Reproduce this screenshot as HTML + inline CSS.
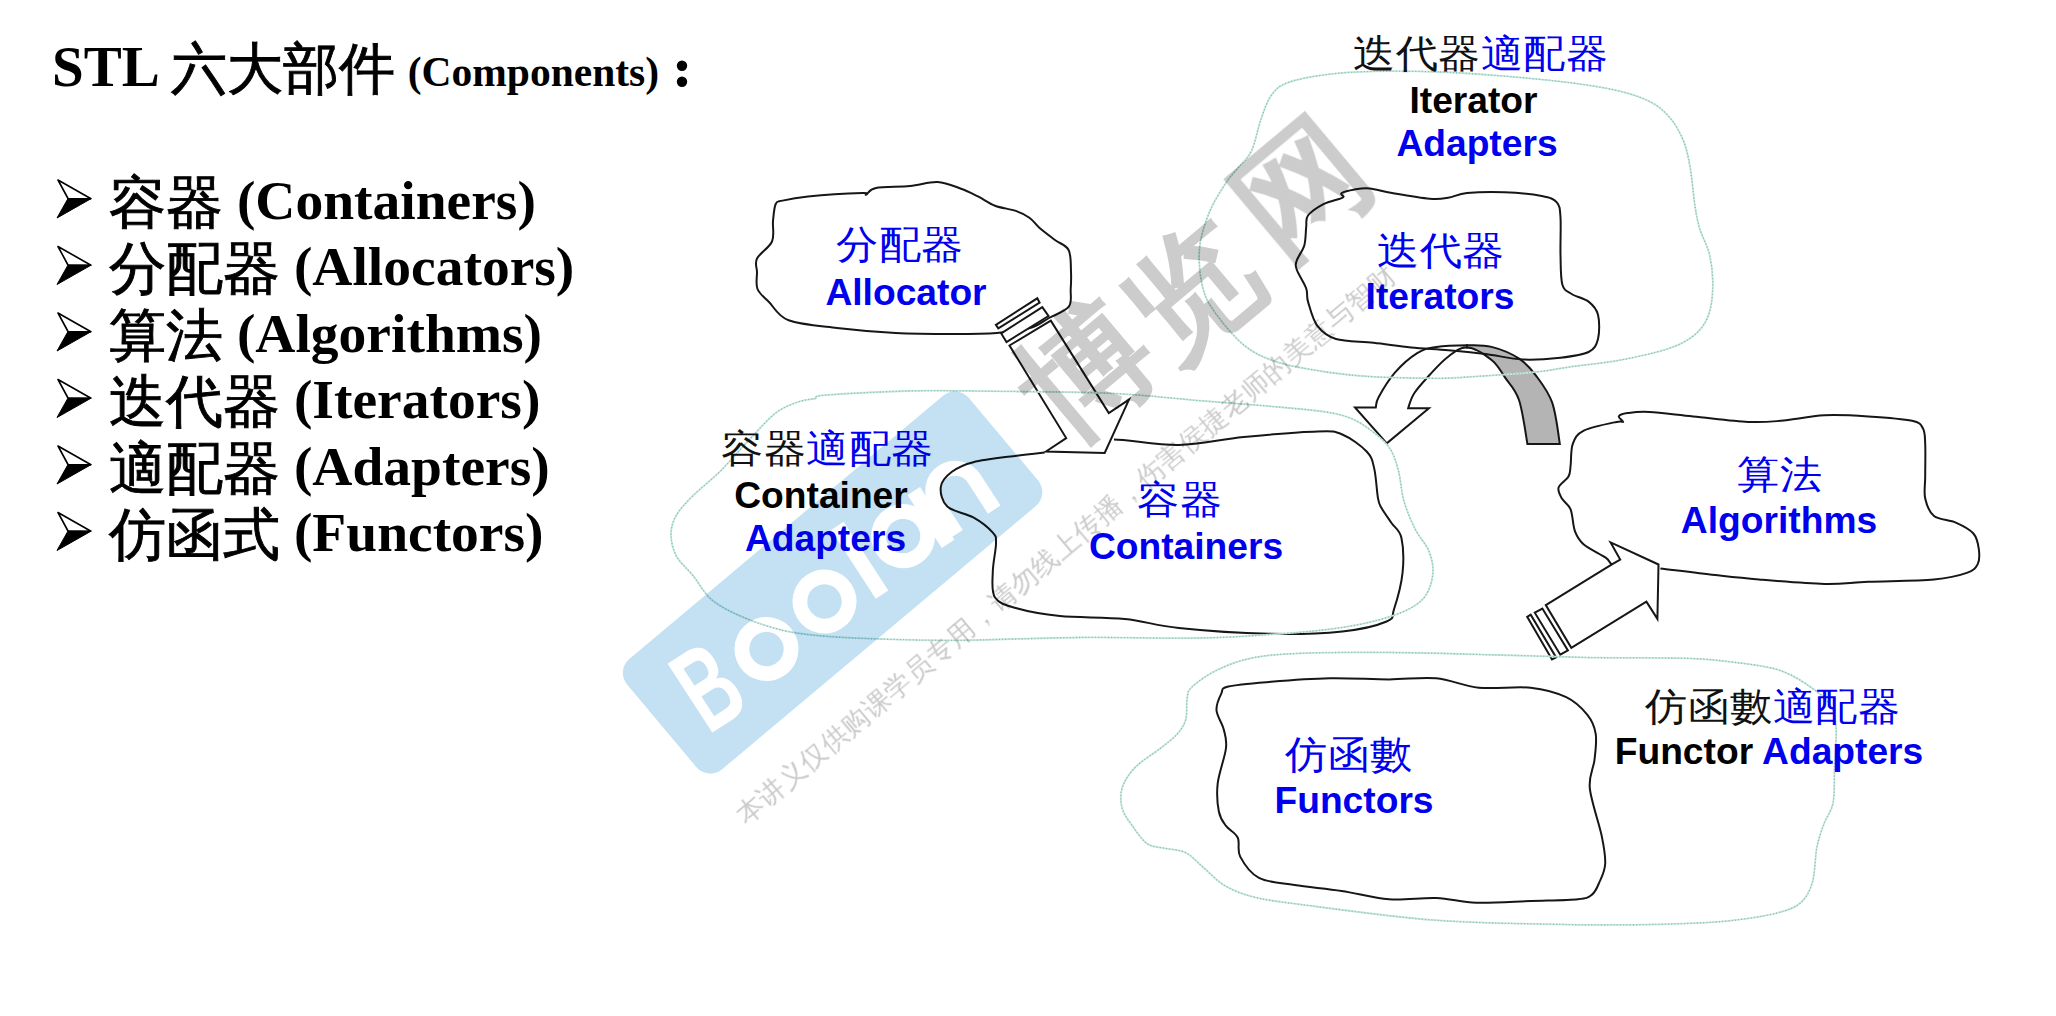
<!DOCTYPE html>
<html><head><meta charset="utf-8">
<style>
html,body{margin:0;padding:0;background:#fff;}
body{width:2056px;height:1016px;overflow:hidden;position:relative;}
svg{position:absolute;left:0;top:0;}
</style></head><body>
<svg width="2056" height="1016" viewBox="0 0 2056 1016">
<rect width="2056" height="1016" fill="#fff"/>
<g font-family="Liberation Serif, serif" fill="#000">
<text x="52" y="86" font-size="57"><tspan font-weight="bold">STL </tspan><tspan font-size="56" dy="2" stroke="#000" stroke-width="0.9">六大部件</tspan><tspan font-weight="bold" font-size="41.5" dy="-2" dx="2.5"> (Components)</tspan></text>
<circle cx="682" cy="65.8" r="5.2"/><circle cx="682" cy="81.8" r="5.2"/>
<text x="109" y="218.7" font-size="55.5"><tspan font-size="56.5" dy="3" stroke="#000" stroke-width="0.9">容器</tspan><tspan font-weight="bold" dy="-3"> (Containers)</tspan></text>
<path d="M58,180.0 L91,198.7 L68,198.5Z" fill="#fff" stroke="#000" stroke-width="1.6" stroke-linejoin="round"/>
<path d="M68,198.5 L91,198.7 L57,218.0Z" fill="#000" stroke="#000" stroke-width="1" stroke-linejoin="round"/>
<text x="109" y="285.2" font-size="55.5"><tspan font-size="56.5" dy="3" stroke="#000" stroke-width="0.9">分配器</tspan><tspan font-weight="bold" dy="-3"> (Allocators)</tspan></text>
<path d="M58,246.5 L91,265.2 L68,265.0Z" fill="#fff" stroke="#000" stroke-width="1.6" stroke-linejoin="round"/>
<path d="M68,265.0 L91,265.2 L57,284.5Z" fill="#000" stroke="#000" stroke-width="1" stroke-linejoin="round"/>
<text x="109" y="351.7" font-size="55.5"><tspan font-size="56.5" dy="3" stroke="#000" stroke-width="0.9">算法</tspan><tspan font-weight="bold" dy="-3"> (Algorithms)</tspan></text>
<path d="M58,313.0 L91,331.7 L68,331.5Z" fill="#fff" stroke="#000" stroke-width="1.6" stroke-linejoin="round"/>
<path d="M68,331.5 L91,331.7 L57,351.0Z" fill="#000" stroke="#000" stroke-width="1" stroke-linejoin="round"/>
<text x="109" y="418.2" font-size="55.5"><tspan font-size="56.5" dy="3" stroke="#000" stroke-width="0.9">迭代器</tspan><tspan font-weight="bold" dy="-3"> (Iterators)</tspan></text>
<path d="M58,379.5 L91,398.2 L68,398.0Z" fill="#fff" stroke="#000" stroke-width="1.6" stroke-linejoin="round"/>
<path d="M68,398.0 L91,398.2 L57,417.5Z" fill="#000" stroke="#000" stroke-width="1" stroke-linejoin="round"/>
<text x="109" y="484.7" font-size="55.5"><tspan font-size="56.5" dy="3" stroke="#000" stroke-width="0.9">適配器</tspan><tspan font-weight="bold" dy="-3"> (Adapters)</tspan></text>
<path d="M58,446.0 L91,464.7 L68,464.5Z" fill="#fff" stroke="#000" stroke-width="1.6" stroke-linejoin="round"/>
<path d="M68,464.5 L91,464.7 L57,484.0Z" fill="#000" stroke="#000" stroke-width="1" stroke-linejoin="round"/>
<text x="109" y="551.2" font-size="55.5"><tspan font-size="56.5" dy="3" stroke="#000" stroke-width="0.9">仿函式</tspan><tspan font-weight="bold" dy="-3"> (Functors)</tspan></text>
<path d="M58,512.5 L91,531.2 L68,531.0Z" fill="#fff" stroke="#000" stroke-width="1.6" stroke-linejoin="round"/>
<path d="M68,531.0 L91,531.2 L57,550.5Z" fill="#000" stroke="#000" stroke-width="1" stroke-linejoin="round"/>
</g>
<g stroke="#161616" stroke-width="2" stroke-linejoin="miter">
<path d="M1467.0,345.3 C1476.2,345.3 1482.9,344.7 1491.6,346.9 C1500.3,349.1 1511.8,353.9 1519.1,358.6 C1526.4,363.3 1530.1,367.8 1535.6,375.1 C1541.1,382.5 1548.2,391.2 1552.2,402.7 C1556.2,414.2 1558.3,434.4 1559.8,444.0 L1527.4,444 C1525.7,434.0 1522.7,411.0 1519.0,400.0 C1515.3,389.0 1509.9,384.6 1505.3,377.9 C1500.7,371.2 1498.0,365.1 1491.6,360.0 C1485.2,354.9 1475.6,347.5 1467.0,347.5Z" fill="#b4b4b4"/>
<path d="M1467.0,347.5 C1459.1,347.0 1453.7,352.6 1447.5,357.2 C1441.3,361.8 1435.1,369.0 1429.6,375.0 C1424.1,381.0 1418.0,387.5 1414.4,393.0 C1410.8,398.5 1409.6,403.7 1408.2,408.2 L1428.9,408.2 L1386.8,443.3 L1355,407.5 L1375.8,407.5 C1376.6,403.7 1375.4,403.1 1378.6,397.2 C1381.8,391.3 1388.7,379.8 1395.1,372.4 C1401.5,365.0 1410.3,357.4 1417.2,353.1 C1424.1,348.9 1428.1,348.2 1436.4,346.9 C1444.7,345.6 1457.8,345.3 1467.0,345.3Z" fill="#fff"/>
</g>
<g fill="none" stroke="#161616" stroke-width="2">
<path d="M775.7,204.0 C777.3,200.6 777.2,201.9 782.6,200.6 C788.0,199.3 794.7,197.7 808.0,196.4 C821.3,195.1 852.9,193.3 862.6,193.0 C872.3,192.7 863.8,195.5 866.0,194.7 C868.2,193.9 868.7,189.4 876.0,188.0 C883.3,186.6 899.8,187.0 910.0,186.0 C920.2,185.0 929.0,181.6 937.5,182.0 C946.0,182.4 954.2,186.3 961.0,188.7 C967.8,191.1 972.3,193.6 978.0,196.4 C983.7,199.2 988.7,203.3 995.0,205.7 C1001.3,208.1 1010.1,208.9 1015.8,210.9 C1021.5,212.9 1025.4,214.8 1029.4,217.7 C1033.4,220.5 1035.3,224.3 1039.6,228.0 C1043.9,231.7 1050.2,236.3 1055.0,240.0 C1059.8,243.7 1065.9,244.7 1068.6,250.0 C1071.3,255.3 1070.7,265.5 1071.0,272.0 C1071.3,278.5 1071.1,283.2 1070.7,289.0 C1070.3,294.8 1072.4,301.9 1068.8,306.7 C1065.2,311.5 1055.5,314.4 1049.0,318.0 C1042.5,321.6 1038.7,325.5 1030.0,328.0 C1021.3,330.5 1009.5,332.0 996.8,333.0 C984.1,334.0 970.9,334.0 954.0,334.0 C937.1,334.0 915.1,334.0 895.6,333.0 C876.1,332.0 854.8,330.1 837.0,328.0 C819.2,325.9 799.9,324.6 788.6,320.3 C777.3,316.0 774.2,307.2 769.0,302.0 C763.8,296.8 759.5,294.0 757.5,289.0 C755.5,284.0 757.1,277.1 757.0,272.0 C756.9,266.9 754.5,263.6 757.0,258.5 C759.5,253.4 769.3,247.8 772.0,241.5 C774.7,235.2 772.4,227.2 773.0,221.0 C773.6,214.8 774.1,207.4 775.7,204.0Z"/>
<path d="M1341.7,193.0 C1343.6,191.8 1350.1,190.2 1354.8,189.4 C1359.5,188.6 1363.6,187.8 1369.8,188.4 C1376.0,189.0 1382.0,191.3 1392.0,193.0 C1402.0,194.7 1420.3,197.9 1429.6,198.7 C1438.9,199.5 1441.8,198.8 1448.0,197.8 C1454.2,196.9 1457.6,193.9 1467.0,193.0 C1476.4,192.1 1491.9,191.7 1504.4,192.2 C1516.9,192.7 1533.1,194.3 1541.8,196.0 C1550.5,197.7 1553.7,198.8 1556.8,202.4 C1559.9,206.0 1559.9,208.7 1560.5,217.4 C1561.1,226.1 1560.2,243.6 1560.5,254.8 C1560.8,266.0 1560.5,278.2 1562.4,284.7 C1564.3,291.2 1567.3,291.2 1571.7,294.0 C1576.1,296.8 1584.2,298.2 1588.6,301.6 C1593.0,305.1 1596.4,308.5 1598.0,314.7 C1599.6,320.9 1599.6,332.8 1598.0,339.0 C1596.4,345.2 1594.8,348.9 1588.6,352.0 C1582.3,355.1 1571.4,356.4 1560.5,357.7 C1549.6,358.9 1535.5,360.1 1523.0,359.5 C1510.5,358.9 1498.2,355.6 1485.7,354.0 C1473.2,352.4 1460.8,351.3 1448.3,350.2 C1435.8,349.1 1423.5,348.6 1411.0,347.4 C1398.5,346.1 1386.0,344.1 1373.5,342.7 C1361.0,341.3 1345.3,341.8 1336.0,339.0 C1326.7,336.2 1322.1,332.1 1317.4,325.9 C1312.7,319.7 1309.9,307.8 1308.0,301.6 C1306.1,295.4 1308.1,293.8 1306.2,288.5 C1304.3,283.2 1298.4,274.5 1296.8,269.8 C1295.2,265.1 1295.5,264.4 1296.8,260.4 C1298.0,256.3 1302.7,251.1 1304.3,245.5 C1305.9,239.9 1305.6,231.8 1306.2,226.8 C1306.8,221.8 1305.2,219.2 1308.0,215.5 C1310.8,211.8 1317.7,207.1 1323.0,204.3 C1328.3,201.5 1336.4,199.9 1339.8,198.7 C1343.2,197.4 1343.3,197.8 1343.6,196.8 C1343.9,195.9 1339.8,194.2 1341.7,193.0Z"/>
<path d="M1228.3,686.5 C1236.6,684.5 1254.0,683.2 1270.9,681.8 C1287.8,680.4 1310.2,678.7 1329.9,678.3 C1349.6,677.9 1371.3,679.4 1389.0,679.4 C1406.7,679.4 1421.2,676.9 1436.2,678.3 C1451.2,679.7 1463.0,686.1 1478.8,687.7 C1494.5,689.3 1516.1,686.1 1530.7,687.7 C1545.3,689.3 1556.8,692.7 1566.2,697.2 C1575.7,701.7 1582.5,708.8 1587.4,714.9 C1592.3,721.0 1594.5,726.3 1595.7,733.8 C1596.9,741.3 1595.5,750.8 1594.5,759.8 C1593.5,768.8 1588.6,775.5 1589.8,788.1 C1591.0,800.7 1599.0,822.8 1601.6,835.4 C1604.2,848.0 1605.6,855.8 1605.2,863.7 C1604.8,871.6 1601.4,877.5 1599.2,882.6 C1597.0,887.7 1595.7,891.6 1592.2,894.4 C1588.7,897.2 1588.2,898.1 1578.0,899.2 C1567.8,900.3 1547.6,900.4 1530.7,901.0 C1513.8,901.6 1492.2,903.2 1476.4,902.7 C1460.7,902.2 1450.8,898.6 1436.2,898.0 C1421.6,897.4 1404.8,900.4 1389.0,899.2 C1373.2,898.0 1357.5,893.3 1341.7,890.9 C1326.0,888.5 1308.3,887.2 1294.5,885.0 C1280.7,882.8 1268.0,882.6 1259.0,877.9 C1250.0,873.2 1243.7,863.3 1240.2,856.6 C1236.7,849.9 1240.2,842.8 1237.8,837.7 C1235.4,832.6 1229.2,830.2 1226.0,825.9 C1222.8,821.6 1220.3,818.8 1218.9,811.7 C1217.5,804.6 1216.5,794.0 1217.7,783.4 C1218.9,772.8 1225.0,757.1 1226.0,748.0 C1227.0,738.9 1225.2,735.3 1223.6,729.0 C1222.0,722.7 1216.9,716.1 1216.5,710.2 C1216.1,704.3 1219.3,697.6 1221.3,693.6 C1223.3,689.6 1220.0,688.5 1228.3,686.5Z"/>
<path d="M1044.7,452.5 C1035.8,453.6 1028.5,454.1 1016.6,455.7 C1004.7,457.3 984.1,459.5 973.3,462.2 C962.5,464.9 957.0,467.9 951.6,472.0 C946.2,476.1 941.5,481.2 940.8,487.0 C940.1,492.8 941.9,501.5 947.3,506.6 C952.7,511.7 965.7,513.1 973.3,517.4 C980.9,521.7 989.0,528.3 992.8,532.6 C996.6,536.9 996.0,536.9 996.0,543.4 C996.0,549.9 993.0,562.5 992.8,571.5 C992.6,580.5 991.0,591.4 995.0,597.5 C999.0,603.6 1005.8,605.2 1016.6,608.3 C1027.4,611.4 1041.9,614.2 1059.9,616.0 C1077.9,617.8 1105.0,617.0 1124.8,619.0 C1144.6,621.0 1155.0,625.5 1178.9,628.0 C1202.8,630.5 1241.2,633.2 1268.4,633.8 C1295.6,634.4 1322.6,633.4 1342.3,631.4 C1362.0,629.4 1378.0,625.2 1386.6,621.5 C1395.2,617.8 1391.3,617.4 1394.0,609.2 C1396.7,601.0 1401.4,584.2 1402.6,572.3 C1403.8,560.4 1403.2,546.0 1401.4,537.8 C1399.6,529.6 1394.8,527.9 1391.5,523.0 C1388.2,518.1 1384.0,512.4 1381.7,508.3 C1379.5,504.2 1379.2,505.0 1378.0,498.4 C1376.8,491.8 1376.1,476.7 1374.3,468.9 C1372.5,461.1 1372.2,457.4 1366.9,451.7 C1361.6,446.0 1350.5,437.9 1342.3,434.5 C1334.1,431.1 1334.1,431.1 1317.7,431.5 C1301.3,431.9 1266.9,434.8 1243.8,437.0 C1220.7,439.2 1200.6,444.6 1179.0,445.0 C1157.4,445.4 1128.0,439.5 1114.0,439.5"/>
<path d="M1611.9,564.3 C1608.7,562.9 1610.4,560.9 1605.7,557.6 C1601.0,554.3 1588.9,548.8 1583.8,544.4 C1578.7,540.0 1577.2,537.1 1575.0,531.3 C1572.8,525.5 1572.8,514.9 1570.6,509.4 C1568.4,503.9 1563.9,502.1 1561.9,498.5 C1559.9,494.9 1557.5,491.1 1558.6,487.5 C1559.7,483.9 1566.5,480.2 1568.5,476.6 C1570.5,473.0 1569.9,471.2 1570.6,465.7 C1571.3,460.2 1570.6,449.6 1572.8,443.8 C1575.0,438.0 1576.5,434.2 1583.8,430.6 C1591.1,427.0 1610.0,423.3 1616.6,421.9 C1623.2,420.4 1622.8,422.8 1623.2,421.9 C1623.6,421.0 1618.1,417.9 1618.8,416.4 C1619.5,414.9 1622.4,413.8 1627.5,413.1 C1632.6,412.4 1638.5,411.4 1649.4,412.0 C1660.4,412.6 1676.8,414.8 1693.2,416.4 C1709.6,418.0 1733.4,421.2 1748.0,421.9 C1762.6,422.6 1768.0,421.9 1780.8,420.8 C1793.5,419.7 1809.9,416.0 1824.5,415.3 C1839.1,414.6 1853.7,415.5 1868.3,416.4 C1882.9,417.3 1903.0,418.8 1912.1,420.8 C1921.2,422.8 1920.8,424.7 1923.0,428.5 C1925.2,432.3 1924.8,435.8 1925.2,443.8 C1925.6,451.8 1925.2,467.5 1925.2,476.6 C1925.2,485.7 1923.7,491.9 1925.2,498.5 C1926.7,505.1 1928.9,512.0 1934.0,516.0 C1939.1,520.0 1949.2,519.7 1955.8,522.6 C1962.4,525.5 1969.6,529.1 1973.4,533.5 C1977.2,537.9 1978.1,543.7 1978.8,548.8 C1979.5,553.9 1979.7,560.1 1977.7,564.1 C1975.7,568.1 1974.1,570.3 1966.8,572.9 C1959.5,575.5 1950.4,578.0 1934.0,579.5 C1917.6,581.0 1886.5,581.0 1868.3,581.7 C1850.0,582.4 1842.7,584.3 1824.5,583.9 C1806.3,583.5 1777.1,581.0 1758.9,579.5 C1740.7,578.0 1731.5,576.9 1715.1,575.1 C1698.7,573.3 1672.9,570.0 1660.4,568.5"/>
</g>
<g fill="#fff" stroke="#161616" stroke-width="2" stroke-linejoin="miter">
<path d="M1009.5,345.5 L1050.8,320.7 L1108.8,413.0 L1129.0,399.6 L1104.7,453.0 L1046.0,451.5 L1066.2,438.1Z"/>
<path d="M995.9,324.8 L1037.3,298.3 L1039.6,302.7 L998.3,328.4Z"/>
<path d="M1001.2,333.4 L1042.3,307.1 L1048.5,316.0 L1006.5,342.0Z"/>
<path d="M1545.8,605.1 L1611.9,564.4 L1620.2,559.6 L1610.6,542.4 L1658.5,564.5 L1657.4,618.9 L1646.4,601.6 L1571.3,647.8Z"/>
<path d="M1527.2,616.8 L1530.7,614.7 L1556.1,657.4 L1552.0,659.5Z"/>
<path d="M1534.8,612.7 L1542.4,608.5 L1567.9,650.5 L1560.3,654.7Z"/>
</g>
<g fill="none" stroke="#c6e9e2" stroke-width="1.8">
<path d="M1440.0,72.0 C1461.7,72.8 1483.3,74.4 1505.0,76.2 C1526.7,78.0 1551.0,80.2 1569.9,82.7 C1588.8,85.2 1605.1,87.7 1618.6,90.9 C1632.1,94.2 1642.4,97.6 1651.1,102.2 C1659.8,106.8 1665.2,112.0 1670.6,118.5 C1676.0,125.0 1680.3,133.1 1683.6,141.2 C1686.8,149.3 1688.2,156.4 1690.1,167.2 C1692.0,178.0 1693.4,195.8 1695.0,206.1 C1696.6,216.4 1697.4,220.8 1699.8,228.9 C1702.2,237.0 1707.4,245.2 1709.6,254.9 C1711.8,264.6 1713.1,277.0 1712.8,287.3 C1712.5,297.6 1711.2,308.5 1708.0,316.6 C1704.8,324.7 1700.1,330.6 1693.3,336.0 C1686.5,341.4 1679.8,344.9 1667.3,349.0 C1654.8,353.1 1634.8,357.4 1618.6,360.4 C1602.4,363.4 1583.4,365.0 1569.9,366.9 C1556.4,368.8 1553.6,370.2 1537.4,371.8 C1521.2,373.4 1488.7,375.6 1472.5,376.7 C1456.3,377.8 1456.2,378.3 1440.0,378.3 C1423.8,378.3 1394.0,377.9 1375.0,376.9 C1356.0,375.8 1342.5,374.4 1326.2,372.0 C1310.0,369.6 1291.0,366.5 1277.5,362.2 C1264.0,357.9 1255.3,354.1 1245.0,346.0 C1234.7,337.9 1222.8,323.2 1215.7,313.5 C1208.7,303.8 1205.4,298.3 1202.7,287.5 C1200.0,276.7 1198.4,261.0 1199.5,248.5 C1200.6,236.0 1204.9,223.5 1209.2,212.7 C1213.5,201.9 1220.6,191.1 1225.5,183.5 C1230.4,175.9 1234.2,172.6 1238.5,167.2 C1242.8,161.8 1247.7,159.1 1251.5,151.0 C1255.3,142.9 1258.0,127.7 1261.2,118.5 C1264.5,109.3 1266.7,101.7 1271.0,95.7 C1275.3,89.8 1278.0,86.3 1287.2,82.8 C1296.4,79.3 1311.6,76.5 1326.2,74.6 C1340.8,72.7 1356.0,71.8 1375.0,71.4 C1394.0,71.0 1418.3,71.2 1440.0,72.0Z"/>
<path d="M825.3,395.2 C840.8,393.9 881.1,391.7 908.0,391.0 C934.9,390.3 952.9,390.8 986.8,391.2 C1020.7,391.6 1075.8,391.7 1111.3,393.3 C1146.8,394.9 1173.7,398.6 1200.0,400.7 C1226.3,402.8 1248.2,404.4 1268.9,406.2 C1289.6,408.0 1310.2,409.6 1324.0,411.7 C1337.8,413.8 1343.3,415.2 1351.6,418.6 C1359.9,422.1 1367.2,427.3 1373.6,432.4 C1380.0,437.4 1386.0,442.5 1390.2,448.9 C1394.4,455.3 1396.2,462.3 1398.5,471.0 C1400.8,479.7 1401.2,491.7 1404.0,501.3 C1406.8,510.9 1410.9,520.5 1415.0,528.8 C1419.1,537.1 1425.8,543.5 1428.8,550.9 C1431.8,558.2 1433.4,565.5 1432.9,572.9 C1432.4,580.2 1429.9,589.0 1426.0,595.0 C1422.1,601.0 1417.3,604.7 1409.5,608.8 C1401.7,612.9 1391.2,616.6 1379.2,619.8 C1367.2,623.0 1353.9,625.8 1337.8,628.1 C1321.7,630.4 1305.7,632.0 1282.7,633.6 C1259.7,635.2 1234.1,637.4 1200.0,638.0 C1165.9,638.6 1118.0,637.1 1078.0,637.5 C1038.0,637.9 992.9,640.0 960.0,640.3 C927.1,640.5 902.9,639.7 880.4,639.0 C857.9,638.3 841.4,637.6 825.3,636.2 C809.2,634.8 797.8,633.9 784.0,630.7 C770.2,627.5 754.6,622.1 742.6,617.0 C730.6,611.9 720.3,606.9 712.0,600.0 C703.7,593.1 698.9,582.9 693.0,575.6 C687.1,568.3 680.2,563.2 676.5,556.3 C672.8,549.4 671.0,541.2 671.0,534.3 C671.0,527.4 672.8,521.4 676.5,515.0 C680.2,508.6 685.6,503.1 693.0,495.7 C700.4,488.3 711.0,480.5 720.6,470.9 C730.2,461.3 741.7,447.5 750.9,437.9 C760.1,428.2 767.9,419.0 775.7,413.0 C783.5,407.0 791.2,404.4 797.7,402.0 C804.2,399.6 810.4,399.6 815.0,398.5 C819.6,397.4 809.8,396.4 825.3,395.2Z"/>
<path d="M1300.0,653.3 C1323.2,652.4 1359.5,652.2 1392.8,652.5 C1426.1,652.8 1465.5,654.1 1500.0,655.0 C1534.5,655.9 1568.6,657.2 1600.0,657.7 C1631.4,658.2 1666.4,657.6 1688.5,658.3 C1710.6,659.0 1718.0,660.2 1732.8,662.1 C1747.6,664.0 1764.8,665.8 1777.1,669.5 C1789.4,673.2 1797.8,678.4 1806.6,684.3 C1815.4,690.2 1825.3,697.6 1830.2,705.0 C1835.1,712.4 1835.4,718.7 1836.1,728.5 C1836.8,738.3 1835.1,751.7 1834.6,764.0 C1834.1,776.3 1834.9,792.5 1833.2,802.3 C1831.5,812.1 1827.0,815.6 1824.3,823.0 C1821.6,830.4 1819.0,836.8 1817.0,846.6 C1815.0,856.4 1815.2,872.6 1812.5,882.0 C1809.8,891.4 1806.6,897.5 1800.7,902.7 C1794.8,907.9 1788.4,910.0 1777.1,913.0 C1765.8,916.0 1747.6,918.7 1732.8,920.4 C1718.0,922.1 1705.7,922.7 1688.5,923.4 C1671.3,924.1 1650.9,924.6 1629.5,924.8 C1608.1,925.0 1592.5,925.2 1560.0,924.4 C1527.5,923.6 1477.9,923.5 1434.6,920.2 C1391.3,916.9 1330.2,908.3 1300.0,904.4 C1269.8,900.5 1266.2,900.2 1253.6,897.0 C1240.9,893.8 1232.5,890.1 1224.1,885.2 C1215.7,880.3 1209.8,872.9 1203.4,867.5 C1197.0,862.1 1192.1,855.9 1185.7,852.7 C1179.3,849.5 1171.4,849.8 1165.0,848.3 C1158.6,846.8 1152.7,847.5 1147.3,843.8 C1141.9,840.1 1136.7,832.0 1132.5,826.1 C1128.3,820.2 1123.9,814.8 1122.2,808.4 C1120.5,802.0 1120.0,794.6 1122.2,787.7 C1124.4,780.8 1129.3,773.4 1135.5,767.0 C1141.7,760.6 1152.2,754.7 1159.1,749.3 C1166.0,743.9 1172.4,739.4 1176.8,734.5 C1181.2,729.6 1184.0,725.7 1185.7,719.8 C1187.4,713.9 1186.1,704.4 1187.1,699.0 C1188.1,693.6 1186.4,692.2 1191.6,687.3 C1196.8,682.4 1207.9,674.4 1218.2,669.5 C1228.5,664.6 1240.0,660.4 1253.6,657.7 C1267.2,655.0 1276.8,654.2 1300.0,653.3Z"/>
</g>
<g fill="none" stroke="#93bdb3" stroke-width="1.3" stroke-dasharray="1.2 2">
<path d="M1440.0,72.0 C1461.7,72.8 1483.3,74.4 1505.0,76.2 C1526.7,78.0 1551.0,80.2 1569.9,82.7 C1588.8,85.2 1605.1,87.7 1618.6,90.9 C1632.1,94.2 1642.4,97.6 1651.1,102.2 C1659.8,106.8 1665.2,112.0 1670.6,118.5 C1676.0,125.0 1680.3,133.1 1683.6,141.2 C1686.8,149.3 1688.2,156.4 1690.1,167.2 C1692.0,178.0 1693.4,195.8 1695.0,206.1 C1696.6,216.4 1697.4,220.8 1699.8,228.9 C1702.2,237.0 1707.4,245.2 1709.6,254.9 C1711.8,264.6 1713.1,277.0 1712.8,287.3 C1712.5,297.6 1711.2,308.5 1708.0,316.6 C1704.8,324.7 1700.1,330.6 1693.3,336.0 C1686.5,341.4 1679.8,344.9 1667.3,349.0 C1654.8,353.1 1634.8,357.4 1618.6,360.4 C1602.4,363.4 1583.4,365.0 1569.9,366.9 C1556.4,368.8 1553.6,370.2 1537.4,371.8 C1521.2,373.4 1488.7,375.6 1472.5,376.7 C1456.3,377.8 1456.2,378.3 1440.0,378.3 C1423.8,378.3 1394.0,377.9 1375.0,376.9 C1356.0,375.8 1342.5,374.4 1326.2,372.0 C1310.0,369.6 1291.0,366.5 1277.5,362.2 C1264.0,357.9 1255.3,354.1 1245.0,346.0 C1234.7,337.9 1222.8,323.2 1215.7,313.5 C1208.7,303.8 1205.4,298.3 1202.7,287.5 C1200.0,276.7 1198.4,261.0 1199.5,248.5 C1200.6,236.0 1204.9,223.5 1209.2,212.7 C1213.5,201.9 1220.6,191.1 1225.5,183.5 C1230.4,175.9 1234.2,172.6 1238.5,167.2 C1242.8,161.8 1247.7,159.1 1251.5,151.0 C1255.3,142.9 1258.0,127.7 1261.2,118.5 C1264.5,109.3 1266.7,101.7 1271.0,95.7 C1275.3,89.8 1278.0,86.3 1287.2,82.8 C1296.4,79.3 1311.6,76.5 1326.2,74.6 C1340.8,72.7 1356.0,71.8 1375.0,71.4 C1394.0,71.0 1418.3,71.2 1440.0,72.0Z"/>
<path d="M825.3,395.2 C840.8,393.9 881.1,391.7 908.0,391.0 C934.9,390.3 952.9,390.8 986.8,391.2 C1020.7,391.6 1075.8,391.7 1111.3,393.3 C1146.8,394.9 1173.7,398.6 1200.0,400.7 C1226.3,402.8 1248.2,404.4 1268.9,406.2 C1289.6,408.0 1310.2,409.6 1324.0,411.7 C1337.8,413.8 1343.3,415.2 1351.6,418.6 C1359.9,422.1 1367.2,427.3 1373.6,432.4 C1380.0,437.4 1386.0,442.5 1390.2,448.9 C1394.4,455.3 1396.2,462.3 1398.5,471.0 C1400.8,479.7 1401.2,491.7 1404.0,501.3 C1406.8,510.9 1410.9,520.5 1415.0,528.8 C1419.1,537.1 1425.8,543.5 1428.8,550.9 C1431.8,558.2 1433.4,565.5 1432.9,572.9 C1432.4,580.2 1429.9,589.0 1426.0,595.0 C1422.1,601.0 1417.3,604.7 1409.5,608.8 C1401.7,612.9 1391.2,616.6 1379.2,619.8 C1367.2,623.0 1353.9,625.8 1337.8,628.1 C1321.7,630.4 1305.7,632.0 1282.7,633.6 C1259.7,635.2 1234.1,637.4 1200.0,638.0 C1165.9,638.6 1118.0,637.1 1078.0,637.5 C1038.0,637.9 992.9,640.0 960.0,640.3 C927.1,640.5 902.9,639.7 880.4,639.0 C857.9,638.3 841.4,637.6 825.3,636.2 C809.2,634.8 797.8,633.9 784.0,630.7 C770.2,627.5 754.6,622.1 742.6,617.0 C730.6,611.9 720.3,606.9 712.0,600.0 C703.7,593.1 698.9,582.9 693.0,575.6 C687.1,568.3 680.2,563.2 676.5,556.3 C672.8,549.4 671.0,541.2 671.0,534.3 C671.0,527.4 672.8,521.4 676.5,515.0 C680.2,508.6 685.6,503.1 693.0,495.7 C700.4,488.3 711.0,480.5 720.6,470.9 C730.2,461.3 741.7,447.5 750.9,437.9 C760.1,428.2 767.9,419.0 775.7,413.0 C783.5,407.0 791.2,404.4 797.7,402.0 C804.2,399.6 810.4,399.6 815.0,398.5 C819.6,397.4 809.8,396.4 825.3,395.2Z"/>
<path d="M1300.0,653.3 C1323.2,652.4 1359.5,652.2 1392.8,652.5 C1426.1,652.8 1465.5,654.1 1500.0,655.0 C1534.5,655.9 1568.6,657.2 1600.0,657.7 C1631.4,658.2 1666.4,657.6 1688.5,658.3 C1710.6,659.0 1718.0,660.2 1732.8,662.1 C1747.6,664.0 1764.8,665.8 1777.1,669.5 C1789.4,673.2 1797.8,678.4 1806.6,684.3 C1815.4,690.2 1825.3,697.6 1830.2,705.0 C1835.1,712.4 1835.4,718.7 1836.1,728.5 C1836.8,738.3 1835.1,751.7 1834.6,764.0 C1834.1,776.3 1834.9,792.5 1833.2,802.3 C1831.5,812.1 1827.0,815.6 1824.3,823.0 C1821.6,830.4 1819.0,836.8 1817.0,846.6 C1815.0,856.4 1815.2,872.6 1812.5,882.0 C1809.8,891.4 1806.6,897.5 1800.7,902.7 C1794.8,907.9 1788.4,910.0 1777.1,913.0 C1765.8,916.0 1747.6,918.7 1732.8,920.4 C1718.0,922.1 1705.7,922.7 1688.5,923.4 C1671.3,924.1 1650.9,924.6 1629.5,924.8 C1608.1,925.0 1592.5,925.2 1560.0,924.4 C1527.5,923.6 1477.9,923.5 1434.6,920.2 C1391.3,916.9 1330.2,908.3 1300.0,904.4 C1269.8,900.5 1266.2,900.2 1253.6,897.0 C1240.9,893.8 1232.5,890.1 1224.1,885.2 C1215.7,880.3 1209.8,872.9 1203.4,867.5 C1197.0,862.1 1192.1,855.9 1185.7,852.7 C1179.3,849.5 1171.4,849.8 1165.0,848.3 C1158.6,846.8 1152.7,847.5 1147.3,843.8 C1141.9,840.1 1136.7,832.0 1132.5,826.1 C1128.3,820.2 1123.9,814.8 1122.2,808.4 C1120.5,802.0 1120.0,794.6 1122.2,787.7 C1124.4,780.8 1129.3,773.4 1135.5,767.0 C1141.7,760.6 1152.2,754.7 1159.1,749.3 C1166.0,743.9 1172.4,739.4 1176.8,734.5 C1181.2,729.6 1184.0,725.7 1185.7,719.8 C1187.4,713.9 1186.1,704.4 1187.1,699.0 C1188.1,693.6 1186.4,692.2 1191.6,687.3 C1196.8,682.4 1207.9,674.4 1218.2,669.5 C1228.5,664.6 1240.0,660.4 1253.6,657.7 C1267.2,655.0 1276.8,654.2 1300.0,653.3Z"/>
</g>
<text x="1353" y="67" transform="translate(1353,72) scale(1.015,0.94) translate(-1353,-72)" font-size="41.5" font-family="Liberation Sans, sans-serif" stroke-width="0"><tspan fill="#111" stroke="#111">迭代器</tspan><tspan fill="#0000ee" stroke="#0000ee">適配器</tspan></text>
<text x="1473.5" y="113" font-size="37.2" fill="#000" text-anchor="middle" font-weight="bold" font-family="Liberation Sans, sans-serif">Iterator</text>
<text x="1477" y="156" font-size="37.2" fill="#0000ee" text-anchor="middle" font-weight="bold" font-family="Liberation Sans, sans-serif">Adapters</text>
<text x="836" y="258" transform="translate(836,263) scale(1.015,0.94) translate(-836,-263)" font-size="41.5" fill="#0000ee" font-family="Liberation Sans, sans-serif">分配器</text>
<text x="906" y="304.5" font-size="37.2" fill="#0000ee" text-anchor="middle" font-weight="bold" font-family="Liberation Sans, sans-serif">Allocator</text>
<text x="1377" y="264" transform="translate(1377,269) scale(1.015,0.94) translate(-1377,-269)" font-size="41.5" fill="#0000ee" font-family="Liberation Sans, sans-serif">迭代器</text>
<text x="1440" y="309" font-size="37.2" fill="#0000ee" text-anchor="middle" font-weight="bold" font-family="Liberation Sans, sans-serif">Iterators</text>
<text x="721" y="462" transform="translate(721,467) scale(1.015,0.94) translate(-721,-467)" font-size="41.5" font-family="Liberation Sans, sans-serif" stroke-width="0"><tspan fill="#111" stroke="#111">容器</tspan><tspan fill="#0000ee" stroke="#0000ee">適配器</tspan></text>
<text x="821" y="507.5" font-size="37.2" fill="#000" text-anchor="middle" font-weight="bold" font-family="Liberation Sans, sans-serif">Container</text>
<text x="825.5" y="551" font-size="37.2" fill="#0000ee" text-anchor="middle" font-weight="bold" font-family="Liberation Sans, sans-serif">Adapters</text>
<text x="1137" y="513" transform="translate(1137,518) scale(1.015,0.94) translate(-1137,-518)" font-size="41.5" fill="#0000ee" font-family="Liberation Sans, sans-serif">容器</text>
<text x="1186" y="559" font-size="37.2" fill="#0000ee" text-anchor="middle" font-weight="bold" font-family="Liberation Sans, sans-serif">Containers</text>
<text x="1737" y="488" transform="translate(1737,493) scale(1.015,0.94) translate(-1737,-493)" font-size="41.5" fill="#0000ee" font-family="Liberation Sans, sans-serif">算法</text>
<text x="1779" y="532.5" font-size="37.2" fill="#0000ee" text-anchor="middle" font-weight="bold" font-family="Liberation Sans, sans-serif">Algorithms</text>
<text x="1285" y="768" transform="translate(1285,773) scale(1.015,0.94) translate(-1285,-773)" font-size="41.5" fill="#0000ee" font-family="Liberation Sans, sans-serif">仿函數</text>
<text x="1354" y="813" font-size="37.2" fill="#0000ee" text-anchor="middle" font-weight="bold" font-family="Liberation Sans, sans-serif">Functors</text>
<text x="1645" y="720" transform="translate(1645,725) scale(1.015,0.94) translate(-1645,-725)" font-size="41.5" font-family="Liberation Sans, sans-serif" stroke-width="0"><tspan fill="#111" stroke="#111">仿函數</tspan><tspan fill="#0000ee" stroke="#0000ee">適配器</tspan></text>
<text x="1769" y="764" font-size="37.2" font-weight="bold" text-anchor="middle" font-family="Liberation Sans, sans-serif"><tspan fill="#000">Functor </tspan><tspan fill="#0000ee">Adapters</tspan></text>
<g style="mix-blend-mode:multiply">
<g transform="translate(832.6,582.5) rotate(-40)">
<rect x="-223" y="-72" width="446" height="144" rx="18" fill="#c3e1f2"/>
</g>
<g transform="translate(708.3,686) rotate(-33)" fill="#fff"><text transform="scale(0.64,1.045)" x="-42" y="39.5" font-size="114" font-weight="bold" font-family="Liberation Sans, sans-serif">B</text></g>
<g transform="translate(766.5,649) rotate(-33)" fill="#fff"><circle cx="0" cy="0" r="24.6" fill="none" stroke="#fff" stroke-width="14.8"/></g>
<g transform="translate(824.5,601.5) rotate(-33)" fill="#fff"><circle cx="0" cy="0" r="24.6" fill="none" stroke="#fff" stroke-width="14.8"/></g>
<g transform="translate(859.7,560.2) rotate(-33)" fill="#fff"><rect x="-7.5" y="-41" width="15" height="82"/></g>
<g transform="translate(903.1,536.1) rotate(-33)" fill="#fff"><circle cx="0" cy="0" r="24.6" fill="none" stroke="#fff" stroke-width="14.8"/><rect x="26" y="-32" width="15" height="63"/></g>
<g transform="translate(958.5,495.8) rotate(-33)" fill="#fff"><path d="M-22.5,31 V-6 A22.5,22.5 0 0 1 22.5,-6 V31" fill="none" stroke="#fff" stroke-width="15"/></g>
<text transform="translate(1114.8,404.6) rotate(-40)" font-size="128" font-weight="bold" fill="#cccccc" text-anchor="middle" font-family="Liberation Sans, sans-serif">博</text>
<text transform="translate(1221.3,324.6) rotate(-40)" font-size="128" font-weight="bold" fill="#cccccc" text-anchor="middle" font-family="Liberation Sans, sans-serif">览</text>
<text transform="translate(1329.8,221.6) rotate(-40)" font-size="128" font-weight="bold" fill="#cccccc" text-anchor="middle" font-family="Liberation Sans, sans-serif">网</text>
<text transform="translate(746,825.4) rotate(-40)" x="0" y="0" font-size="27" letter-spacing="0.46" fill="#cbcbcb" font-family="Liberation Sans, sans-serif">本讲义仅供购课学员专用，请勿线上传播，伤害侯捷老师的美意与智财</text>
</g>
</svg>
</body></html>
